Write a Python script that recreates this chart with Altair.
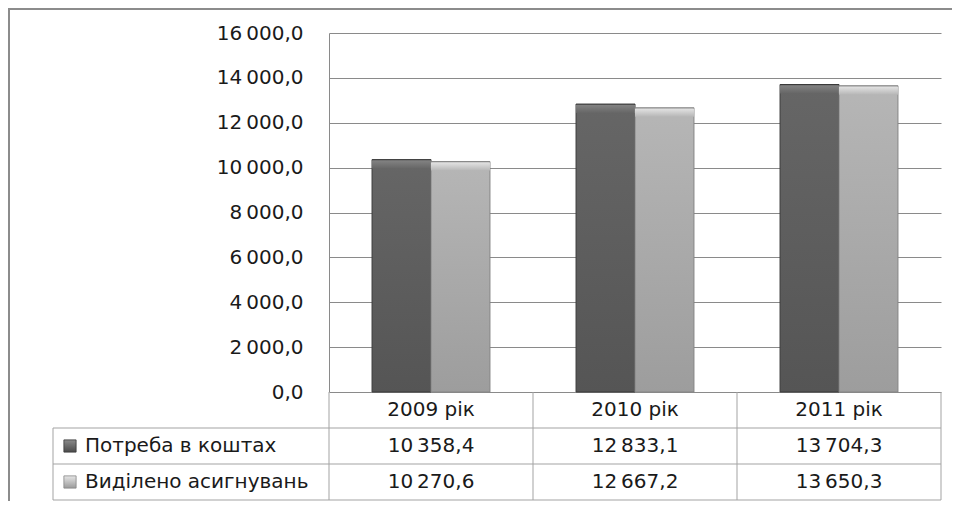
import altair as alt
import pandas as pd

years = ["2009 рік", "2010 рік", "2011 рік"]
series = ["Потреба в коштах", "Виділено асигнувань"]
need = [10358.4, 12833.1, 13704.3]
allocated = [10270.6, 12667.2, 13650.3]
y_ticks = [0, 2000, 4000, 6000, 8000, 10000, 12000, 14000, 16000]

SEP = "\u2009"
FONT = "DejaVu Sans"
FS = 20
TXT = "#1a1a1a"
GRID = "#8a8a8a"
TBL = "#a3a3a3"


def fmt(v):
    return f"{v:,.1f}".replace(",", SEP).replace(".", ",")


bars_df = pd.DataFrame({
    "year": years * 2,
    "series": [series[0]] * 3 + [series[1]] * 3,
    "value": need + allocated,
})

rows = ["header"] + series
table_df = pd.DataFrame({
    "year": years * 3,
    "row": ["header"] * 3 + [series[0]] * 3 + [series[1]] * 3,
    "text": years + [fmt(v) for v in need] + [fmt(v) for v in allocated],
})
label_df = pd.DataFrame({"row": series})
frame_df = pd.DataFrame({"k": [0]})

x_enc = alt.X("year:N", scale=alt.Scale(domain=years, paddingInner=0, paddingOuter=0), axis=None)
xo_enc = alt.XOffset("series:N", scale=alt.Scale(domain=series, paddingInner=0, paddingOuter=0.73))
y_axis = alt.Axis(values=y_ticks, grid=True, gridColor=GRID, gridWidth=1, domain=True,
                  domainColor=GRID, ticks=False, labelPadding=26, labelFont=FONT,
                  labelFontSize=FS, labelColor=TXT, title=None,
                  labelExpr="replace(replace(format(datum.value, ',.1f'), ',', '" + SEP + "'), '.', ',')")
y_scale = alt.Scale(domain=[0, 16000], nice=False)


def row_y(bp=0.5):
    return alt.Y("row:N", bandPosition=bp,
                 scale=alt.Scale(domain=rows, range=[359, 467], paddingInner=0, paddingOuter=0),
                 axis=None)


def vgrad(top, bottom):
    return alt.Gradient(gradient="linear", x1=0, x2=0, y1=0, y2=1,
                        stops=[alt.GradientStop(color=top, offset=0),
                               alt.GradientStop(color=bottom, offset=1)])


styles = {
    series[0]: dict(body=vgrad("#666666", "#555555"), stroke="#3a3a3a",
                    bevel=vgrad("#828282", "#666666"), sq=vgrad("#8a8a8a", "#4a4a4a")),
    series[1]: dict(body=vgrad("#b6b6b6", "#9d9d9d"), stroke="#858585",
                    bevel=vgrad("#e2e2e2", "#b6b6b6"), sq=vgrad("#e6e6e6", "#9a9a9a")),
}

base = alt.Chart(bars_df)
layers = []

# grid / axis carrier (invisible)
layers.append(base.mark_bar(opacity=0).encode(x=x_enc, xOffset=xo_enc,
                                                y=alt.Y("value:Q", scale=y_scale, axis=y_axis)))

for s in series:
    st = styles[s]
    layers.append(base.transform_filter(alt.datum.series == s).mark_bar(
        color=st["body"], stroke=st["stroke"], strokeWidth=1).encode(
        x=x_enc, xOffset=xo_enc, y=alt.Y("value:Q", scale=y_scale, axis=None)))
    layers.append(base.transform_filter(alt.datum.series == s).mark_bar(
        color=st["bevel"], y2Offset=9, xOffset=1.5, x2Offset=-1.5, yOffset=1, strokeWidth=0).encode(
        x=x_enc, xOffset=xo_enc, y=alt.Y("value:Q", scale=y_scale, axis=None),
        y2=alt.Y2("value:Q")))

# table text
layers.append(alt.Chart(table_df).mark_text(font=FONT, fontSize=FS, color=TXT, baseline="middle").encode(
    x=x_enc, y=row_y(), text="text:N"))

# row labels
layers.append(alt.Chart(label_df).mark_text(font=FONT, fontSize=FS, color=TXT, align="left",
                                             baseline="middle").encode(
    x=alt.value(-244), y=row_y(), text="row:N"))

# legend squares
for s in series:
    st = styles[s]
    layers.append(alt.Chart(label_df).transform_filter(alt.datum.row == s).mark_square(
        size=150, fill=st["sq"], stroke=st["stroke"], strokeWidth=0.8, opacity=1).encode(
        x=alt.value(-259), y=row_y()))

# table horizontal lines
layers.append(alt.Chart(label_df).mark_rule(color=TBL, strokeWidth=1).encode(
    x=alt.value(-276), x2=alt.value(612), y=row_y(0)))
layers.append(alt.Chart(label_df).transform_filter(alt.datum.row == series[1]).mark_rule(
    color=TBL, strokeWidth=1).encode(x=alt.value(-276), x2=alt.value(612), y=row_y(1)))

# table vertical lines
years_df = pd.DataFrame({"year": years})
layers.append(alt.Chart(years_df).mark_rule(color=TBL, strokeWidth=1).encode(
    x=alt.X("year:N", bandPosition=0, scale=alt.Scale(domain=years, paddingInner=0, paddingOuter=0), axis=None),
    y=alt.value(359), y2=alt.value(467)))
layers.append(alt.Chart(years_df).transform_filter(alt.datum.year == years[-1]).mark_rule(
    color=TBL, strokeWidth=1).encode(
    x=alt.X("year:N", bandPosition=1, scale=alt.Scale(domain=years, paddingInner=0, paddingOuter=0), axis=None),
    y=alt.value(359), y2=alt.value(467)))
layers.append(alt.Chart(frame_df).mark_rule(color=TBL, strokeWidth=1).encode(
    x=alt.value(-276), y=alt.value(395), y2=alt.value(467)))

# outer frame
layers.append(alt.Chart(frame_df).mark_rect(fillOpacity=0, stroke="#8c8c8c", strokeWidth=2).encode(
    x=alt.value(-320), x2=alt.value(660), y=alt.value(-24), y2=alt.value(520)))

chart = alt.layer(*layers).resolve_scale(y="independent").properties(
    width=612, height=359,
    autosize=alt.AutoSizeParams(type="none"),
    padding={"left": 321, "top": 25, "right": 11, "bottom": 109},
    background="white",
).configure_view(stroke=None)

chart.save("out.html", embed_options={"renderer": "svg", "actions": False})
